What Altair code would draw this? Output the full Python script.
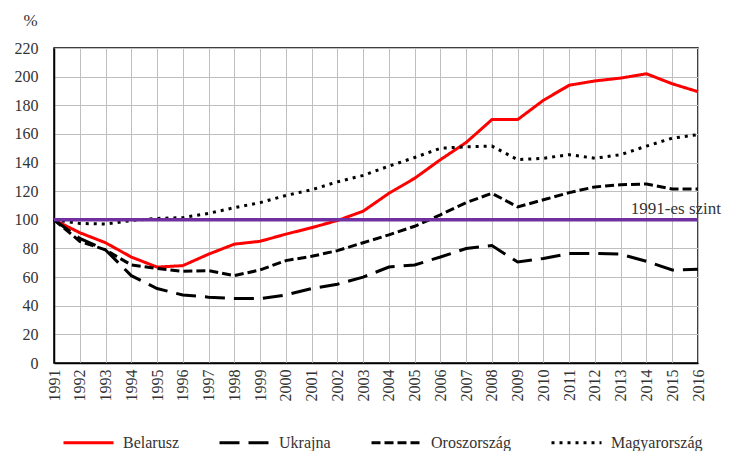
import altair as alt
import pandas as pd

years = list(range(1991, 2017))
belarusz = [100, 91, 84, 74, 67, 68, 76, 83, 85, 90, 94.5, 99.5, 106, 118.5, 129, 142, 154, 170, 170, 183.5, 194, 197, 199, 202, 195, 189.5]
ukrajna = [100, 87, 79, 61, 52, 47.5, 46, 45, 45, 47.5, 52, 55, 60, 67, 68.5, 74, 80, 82, 70.5, 73, 76.5, 76.5, 76, 71, 65, 65.5]
oroszorszag = [100, 85, 79, 68.5, 66, 64, 64.5, 61, 65, 71.5, 74.5, 78.5, 84, 89.5, 95.5, 103.5, 112, 118.5, 109, 114, 119, 123, 124.5, 125, 121.5, 121.5]
magyarorszag = [100, 97.5, 97, 99.5, 101, 101.5, 104.5, 108.5, 112, 117, 121, 126.5, 131, 137.5, 143.5, 150, 151, 151.5, 142, 143, 145.5, 143, 145.5, 151.5, 157, 159.5]

series_names = ["Belarusz", "Ukrajna", "Oroszország", "Magyarország"]
series_colors = ["#FF0000", "#000000", "#000000", "#000000"]
series_dashes = [[1, 0], [20, 9], [9, 4], [3, 5]]
y_ticks = list(range(0, 221, 20))
baseline_value = 100
baseline_label = "1991-es szint"

rows = []
for name, vals in zip(series_names, [belarusz, ukrajna, oroszorszag, magyarorszag]):
    for yr, v in zip(years, vals):
        rows.append({"year": yr, "value": v, "series": name})
df = pd.DataFrame(rows)

FONT = "Liberation Serif, Times New Roman, serif"
TXT = "#333333"

x_scale = alt.Scale(domain=[1991, 2016], nice=False, zero=False)
y_scale = alt.Scale(domain=[0, 220], nice=False)

legend = alt.Legend(orient="none", legendX=8, legendY=368,
                    direction="horizontal", title=None,
                    symbolType="stroke", symbolSize=2500,
                    symbolStrokeWidth=3, labelFont=FONT,
                    labelFontSize=16, labelColor=TXT,
                    columnPadding=34, labelOffset=8)

x_axis = alt.Axis(values=years, format="d", labelAngle=-90, title=None, labelPadding=6,
                  labelFont=FONT)
y_axis = alt.Axis(values=y_ticks, title="%", titleAngle=0, titleX=-24, titleY=-28,
                  titleAlign="center", titleBaseline="middle", labelPadding=16,
                  labelFont=FONT, titleFont=FONT)

lines = alt.Chart(df).mark_line(strokeWidth=3).encode(
    x=alt.X("year:Q", scale=x_scale, axis=x_axis),
    y=alt.Y("value:Q", scale=y_scale, axis=y_axis),
    color=alt.Color("series:N",
                    scale=alt.Scale(domain=series_names, range=series_colors),
                    legend=legend),
    strokeDash=alt.StrokeDash("series:N",
                              scale=alt.Scale(domain=series_names, range=series_dashes),
                              legend=legend),
    order="year:Q",
)

base_df = pd.DataFrame({"x": [2016], "y": [baseline_value], "label": [baseline_label]})

rule = alt.Chart(base_df).mark_rule(color="#7030A0", strokeWidth=3.5).encode(
    y=alt.Y("y:Q", scale=y_scale, axis=y_axis)
)

label = alt.Chart(base_df).mark_text(
    align="right", baseline="alphabetic", dx=23, dy=-6,
    font=FONT, fontSize=17, color=TXT
).encode(
    x=alt.X("x:Q", scale=x_scale, axis=x_axis),
    y=alt.Y("y:Q", scale=y_scale, axis=y_axis),
    text="label:N",
)

chart = alt.layer(lines, rule, label).properties(
    width=644, height=315,
    autosize=alt.AutoSizeParams(type="none"),
    padding={"left": 46, "top": 40, "right": 24, "bottom": 88},
).configure(
    font=FONT,
    style={"guide-label": {"font": FONT}, "guide-title": {"font": FONT}},
).configure_view(
    stroke="#000000", strokeWidth=1.5
).configure_axis(
    gridColor="#BFBFBF", gridWidth=1, ticks=False,
    labelFont=FONT, labelFontSize=16, labelColor=TXT,
    labelOverlap=False, labelFlush=False,
    titleFont=FONT, titleFontSize=17, titleFontWeight="normal", titleColor=TXT,
    domainColor="#000000", domainWidth=1.5,
).configure_legend(
    labelFont=FONT
)

chart.save("out.html", embed_options={"renderer": "svg", "actions": False})
